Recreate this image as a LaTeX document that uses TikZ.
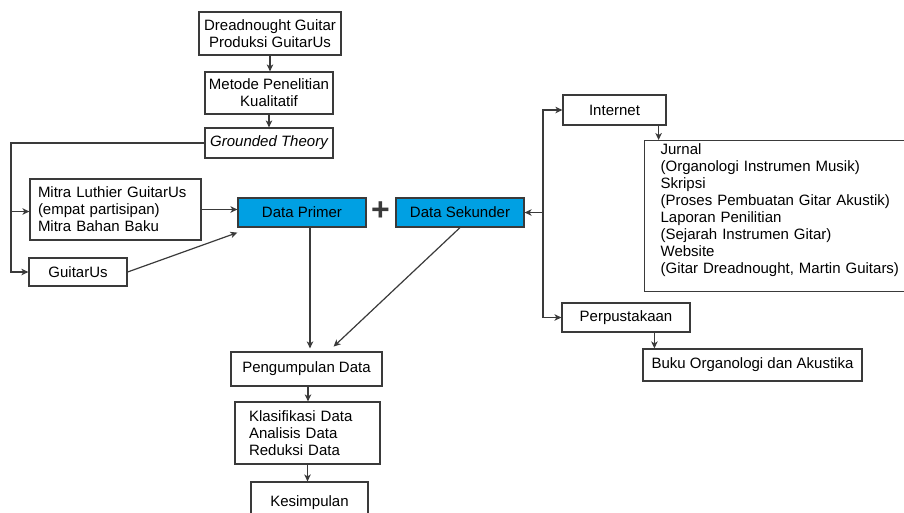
\documentclass[tikz,border=0pt]{standalone}
\usepackage{fontspec}
\setmainfont{Liberation Sans}
\usetikzlibrary{positioning,arrows.meta,calc}
\definecolor{linegray}{HTML}{3A3A3A}
\definecolor{datablue}{HTML}{00A0E3}

\begin{document}
\begin{tikzpicture}[x=1pt,y=-1pt,
  box/.style={draw=linegray,line width=1.2pt,inner sep=2pt,font=\fontsize{15}{17}\selectfont,align=center},
  databox/.style={box,fill=datablue},
  arr/.style={draw=linegray,line width=1.2pt,-{Stealth[length=7pt,width=6.5pt,inset=2pt]}}]
\useasboundingbox (0,0) rectangle (904,512);

% alur utama
\node[box,minimum width=142,minimum height=43] (dread) at (270,33.5) {Dreadnought Guitar\\Produksi GuitarUs};
\node[box,minimum width=128,minimum height=42] (metode) at (269,93) {Metode Penelitian\\Kualitatif};
\node[box,minimum width=128,minimum height=30,font=\fontsize{15}{17}\selectfont\itshape] (grounded) at (269,143) {Grounded Theory};

% sumber primer
\node[box,text width=155,inner xsep=8pt,minimum height=61,align=left] (mitra) at (115.5,209.5) {Mitra Luthier GuitarUs\\(empat partisipan)\\Mitra Bahan Baku};
\node[box,minimum width=98,minimum height=28] (guitarus) at (78,272) {GuitarUs};

\node[databox,minimum width=128,minimum height=29] (primer) at (302,212.5) {Data Primer};
\node[font=\fontsize{32}{32}\selectfont\bfseries,text=linegray,inner sep=0pt] (plus) at (380.5,211) {+};
\node[databox,minimum width=128,minimum height=29] (sekunder) at (460,212.5) {Data Sekunder};

% sumber sekunder
\node[box,minimum width=103,minimum height=30] (internet) at (614.5,110) {Internet};
\node[box,anchor=north west,text width=252,inner xsep=16pt,align=left,inner ysep=3pt] (jurnal) at (644,140) {Jurnal\\(Organologi Instrumen Musik)\\Skripsi\\(Proses Pembuatan Gitar Akustik)\\Laporan Penilitian\\(Sejarah Instrumen Gitar)\\Website\\(Gitar Dreadnought, Martin Guitars)\rule[-15pt]{0pt}{15pt}};
\node[box,minimum width=128,minimum height=29] (perpus) at (626,317.5) {Perpustakaan};
\node[box,minimum width=219,minimum height=32] (buku) at (752.5,365) {Buku Organologi dan Akustika};

% analisis
\node[box,minimum width=151,minimum height=34] (kumpul) at (306.5,369) {Pengumpulan Data};
\node[box,text width=117,inner xsep=14pt,minimum height=62,align=left] (klasif) at (307.5,433) {Klasifikasi Data\\Analisis Data\\Reduksi Data};
\node[box,minimum width=117,minimum height=42] (simpul) at (309.5,503) {Kesimpulan};

% panah
\draw[arr] (dread.south) -- (dread.south |- metode.north);
\draw[arr] (metode.south) -- (metode.south |- grounded.north);

\coordinate (lbus) at (11,0);
\draw[arr] (grounded.west) -| (lbus |- guitarus) -- (guitarus.west);
\draw[arr] ([yshift=-2pt]lbus |- mitra) -- ([yshift=-2pt]mitra.west);
\draw[arr] (mitra.east) -- (mitra.east -| primer.west);
\draw[arr] (guitarus.east) -- ([yshift=-5pt]primer.south west);

\draw[arr,shorten >=3pt] ([xshift=8pt]primer.south) -- ([xshift=8pt]primer.south |- kumpul.north);
\draw[arr,shorten >=7pt] (sekunder.south) -- ([xshift=22pt]kumpul.north);

\coordinate (rbus) at (543,212.5);
\draw[arr] (rbus |- perpus) |- (internet.west);
\draw[arr] (rbus |- perpus) -- (perpus.west);
\draw[arr] (rbus) -- (sekunder.east);
\draw[arr] ([xshift=-8pt]internet.south east) -- ([xshift=-8pt]internet.south east |- jurnal.north);
\draw[arr] ([xshift=12pt]buku.north west |- perpus.south) -- ([xshift=12pt]buku.north west);

\draw[arr] ([xshift=1.5pt]kumpul.south) -- ([xshift=1.5pt]kumpul.south |- klasif.north);
\draw[arr] (klasif.south) -- (klasif.south |- simpul.north);
\end{tikzpicture}
\end{document}
